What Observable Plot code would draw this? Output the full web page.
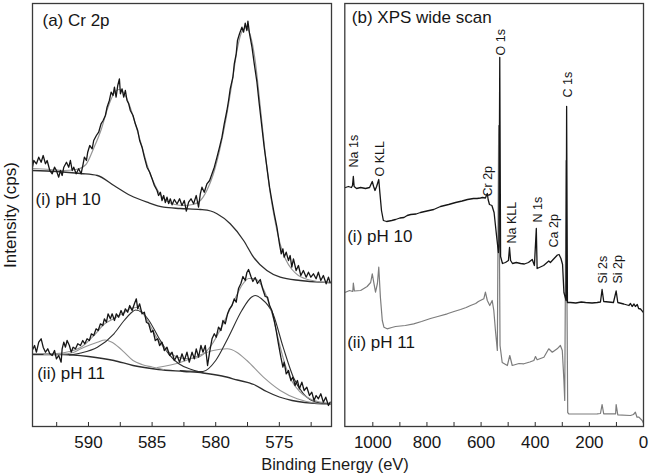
<!DOCTYPE html>
<html><head><meta charset="utf-8">
<script src="https://cdn.jsdelivr.net/npm/d3@7"></script>
<script src="https://cdn.jsdelivr.net/npm/@observablehq/plot@0.6"></script>
<style>
body{margin:0;background:#fff}
#wrap{position:relative;width:650px;height:475px;font-family:"Liberation Sans",Arial,sans-serif;color:#1a1a1a}
.abs{position:absolute}
#xlabel{left:0;width:670px;top:456px;text-align:center;font-size:16.5px;line-height:16px}
</style></head>
<body><div id="wrap"><div id="pa" class="abs" style="left:0;top:0"></div><div id="pb" class="abs" style="left:334px;top:0"></div><div id="xlabel" class="abs">Binding Energy (eV)</div></div>
<script>
// ---------- Panel (a) Cr 2p : [binding energy eV, intensity a.u.] ----------
const crRaw10 = [[594.40,259.3],[594.30,266],[594.09,262.7],[593.91,269.3],[593.72,264.3],[593.56,271],[593.38,262.7],[593.25,266],[593.04,256],[592.85,252.7],[592.67,259.3],[592.52,256],[592.34,249.3],[592.20,256],[592.07,251],[591.94,259.3],[591.73,264.3],[591.55,259.3],[591.42,266],[591.28,256],[591.16,259.3],[590.97,252.7],[590.77,257.7],[590.58,252.7],[590.42,262.7],[590.32,269.3],[590.16,266],[590.06,274.3],[589.90,281],[589.71,277.7],[589.59,286],[589.38,291],[589.20,294.3],[589.01,302.7],[588.85,306],[588.67,311],[588.54,319.3],[588.36,326],[588.22,334.3],[588.07,331],[587.96,339.3],[587.83,329.3],[587.70,341],[587.57,347.7],[587.49,332.7],[587.36,337.7],[587.23,329.3],[587.10,336],[586.97,326],[586.84,322.7],[586.71,316],[586.50,311],[586.32,302.7],[586.13,296],[585.98,286],[585.79,279.3],[585.61,269.3],[585.40,259.3],[585.19,254.3],[585.00,247.7],[584.82,241],[584.61,236],[584.49,231],[584.35,234.3],[584.22,226],[584.09,231],[583.96,224],[583.83,229.3],[583.70,223],[583.57,227.7],[583.43,221.7],[583.25,227],[583.04,222.5],[582.84,227.7],[582.65,221],[582.47,226],[582.31,215.3],[582.13,224.3],[581.94,227.7],[581.74,222.7],[581.53,231],[581.35,219.3],[581.21,232.7],[581.08,239.3],[580.90,234.3],[580.69,242.7],[580.48,246],[580.29,252.7],[580.11,259.3],[579.90,269.3],[579.70,279.3],[579.51,289.3],[579.33,302.7],[579.12,316],[578.99,326],[578.86,337.7],[578.65,349.3],[578.54,362.7],[578.39,372.7],[578.29,386],[578.13,392.7],[577.94,399.3],[577.81,394.3],[577.68,403.3],[577.55,396],[577.47,405.3],[577.34,392.7],[577.15,379.3],[576.97,362.7],[576.76,344.3],[576.58,322.7],[576.37,299.3],[576.19,279.3],[575.98,259.3],[575.77,239.3],[575.59,226],[575.40,212.7],[575.19,199.3],[574.99,182.7],[574.85,172.7],[574.72,177.7],[574.62,169.3],[574.46,174.3],[574.28,166],[574.15,171],[574.02,159.3],[573.89,167.7],[573.68,156],[573.50,161],[573.31,151],[573.11,156],[572.89,149.3],[572.71,154.3],[572.52,149.3],[572.32,152.7],[572.11,147.7],[571.93,154.3],[571.74,146],[571.54,151],[571.32,142.7],[571.14,149.3],[571.01,144]];
const crBg10 = [[594.4,256],[592.5,255],[590.6,253],[589.3,251],[588.0,241],[586.7,231],[585.4,224.3],[584.1,219.3],[582.8,218],[581.2,217],[580.4,215.5],[579.9,212.7],[578.86,202.7],[577.81,186],[577.03,169.3],[575.98,156],[574.93,149.3],[573.36,146],[571.79,144.3],[570.9,144]];
const crFit10 = [[594.4,258],[593.0,257],[592.0,256],[591.0,257],[590.2,262],[589.6,278],[589.0,297],[588.5,318],[588.0,333],[587.6,337],[587.2,333],[586.8,322],[586.3,302],[585.8,280],[585.3,258],[584.8,242],[584.3,231],[583.8,225],[583.2,222],[582.5,221],[581.8,222],[581.2,226],[580.7,236],[580.2,252],[579.7,276],[579.2,307],[578.7,345],[578.3,378],[577.9,396],[577.6,399],[577.3,392],[576.9,366],[576.5,320],[576.1,272],[575.7,232],[575.3,203],[574.9,181],[574.5,167],[574.0,157],[573.5,151],[573.0,148],[572.0,145],[570.9,143.5]];

const crRaw11 = [[594.42,76],[594.24,81],[594.09,74.3],[593.91,84.3],[593.72,87.7],[593.56,79.3],[593.38,74.3],[593.20,77.7],[593.04,72.7],[592.85,71],[592.67,76],[592.52,67.7],[592.34,71],[592.15,64.3],[592.07,77.7],[591.94,84.3],[591.81,79.3],[591.68,86],[591.50,81],[591.36,74.3],[591.21,79.3],[591.02,77.7],[590.84,82.7],[590.63,81],[590.45,86],[590.29,82.7],[590.11,87.7],[589.93,86],[589.77,92.7],[589.59,91],[589.40,97.7],[589.24,96],[589.06,102.7],[588.88,101],[588.75,107.7],[588.59,104.3],[588.46,112.7],[588.28,107.7],[588.14,112.7],[587.96,106],[587.81,112.7],[587.63,109.3],[587.44,116],[587.28,111],[587.10,117.7],[586.92,114.3],[586.76,121],[586.57,116],[586.39,122.7],[586.24,127.7],[586.13,117.7],[585.98,122.7],[585.79,112.7],[585.61,114.3],[585.45,104.3],[585.27,102.7],[585.08,94.3],[584.93,96],[584.75,86],[584.56,87.7],[584.41,81],[584.22,84.3],[584.04,76],[583.83,79.3],[583.62,71],[583.43,74.3],[583.25,66],[583.04,71],[582.84,64.3],[582.65,72.7],[582.47,66],[582.26,74.3],[582.08,64.3],[581.86,74.3],[581.68,67.7],[581.53,77.7],[581.35,69.3],[581.16,81],[581.00,74.3],[580.82,81],[580.64,61],[580.48,74.3],[580.29,87.7],[580.11,92.7],[579.96,89.3],[579.78,99.3],[579.59,96],[579.43,106],[579.25,102.7],[579.07,112.7],[578.91,117.7],[578.72,121],[578.54,127.7],[578.39,124.3],[578.21,138],[578.02,143],[577.86,150],[577.68,146],[577.55,154],[577.42,157],[577.23,150],[577.08,145],[576.90,149],[576.72,143],[576.50,147],[576.32,138],[576.11,130],[575.93,129.3],[575.77,121],[575.59,116],[575.40,106],[575.25,96],[575.07,82.7],[574.88,69.3],[574.72,59.3],[574.62,64.3],[574.46,52.7],[574.28,56],[574.09,46],[573.94,49.3],[573.76,41],[573.58,46],[573.42,37.7],[573.23,44.3],[573.05,36],[572.84,39.3],[572.63,31],[572.45,34.3],[572.27,26],[572.11,31],[571.93,27.7],[571.74,32.7],[571.54,24.3],[571.35,29.3],[571.14,21],[571.01,24.3]];
const crBg11 = [[594.4,72],[592.0,72],[590.0,70],[588.0,66],[586.5,61],[584.5,57],[582.5,55],[581.0,53.5],[579.5,50.5],[578.3,46.5],[577.0,42],[576.0,35],[575.0,29.5],[574.0,26],[573.0,24],[572.0,23],[570.9,22.7]];
const crFit11 = [[594.4,73],[592.5,73],[591.5,75],[590.5,80],[589.5,92],[588.8,102],[588.0,108],[587.3,113],[586.7,118],[586.2,119],[585.7,113],[585.2,102],[584.6,88],[584.0,78],[583.3,71],[582.5,68],[581.8,68],[581.0,72],[580.3,82],[579.6,98],[579.0,114],[578.4,130],[577.9,142],[577.4,148],[577.0,148],[576.5,143],[576.0,130],[575.5,110],[575.0,83],[574.5,60],[574.0,45],[573.4,35],[572.8,29],[572.0,25],[570.9,23]];
const crPeakA11 = [[593.5,72],[592.2,72.3],[591.2,74],[590.6,77.7],[589.9,81.5],[589.3,84.3],[588.7,86.5],[588.2,84.5],[587.6,79],[587.2,74.3],[586.5,66],[585.8,62],[585.0,59.5],[584.1,57]];
const crPeakB11 = [[591.5,71.5],[590.6,73.5],[589.3,79.3],[588.0,92.7],[587.2,106],[586.7,113],[586.3,116.5],[585.8,114],[585.3,107],[584.5,89.3],[583.7,72.7],[582.9,62.7],[581.9,57],[581.0,54]];
const crPeakC11 = [[584.6,59],[582.8,64],[581.5,70],[580.2,76],[579.1,77.7],[578.35,74.3],[577.55,66],[576.25,49.3],[574.93,36],[573.6,27.7],[572.3,23.7],[571.5,23]];
const crPeakD11 = [[582.8,56],[581.0,55],[580.0,66],[579.0,89.3],[577.95,116],[577.2,129.3],[576.9,131],[576.4,127.7],[575.5,112.7],[574.7,79.3],[573.9,49.3],[573.1,32.7],[572.05,24.3],[571.0,22.7]];

// ---------- Panel (b) XPS wide scan ----------
const wide10 = [[1101,239],[1090,240],[1079,239],[1075,241],[1072,250],[1069,240],[1060,238],[1045,239],[1027,238],[1012,239],[1002,245],[997,240],[992,236],[986,240],[978,247],[974,234],[968,216],[961,206],[949,205],[930,206],[916,207],[900,208.5],[885,209],[873,211],[860,212],[840,212.5],[824,214],[800,215.5],[775,217],[750,220],[720,222],[694,224],[670,225.5],[650,227],[628,228],[615,228],[602,228.5],[595,229],[584,228.5],[577,233],[574,227],[569,222],[560,221],[552,214],[543,191],[536,174],[534,180],[531,369],[528,170],[521,163],[510,164],[499,166],[495,179],[491,166],[484,163],[470,164],[454,163],[440,162.5],[425,164],[411,167],[403,161],[396,198],[393,158],[369,161],[350,165.5],[344,164],[332,167.5],[318,171.5],[312,172],[305,168],[299,162],[294,134],[286,126],[284,320],[281,124],[270,124],[250,123.5],[230,124.5],[214,124],[190,123.5],[171,124],[159,124.5],[153,137],[147,125],[111,124],[101,135.5],[95,124],[73,122.5],[54,121],[48,123],[42,120],[35,122.5],[30,120],[23,122],[18,118],[11,117.5],[0,114]];
const wide11 = [[1101,134.3],[1086,136],[1074,135],[1072,143.3],[1068,135.5],[1045,136],[1021,140],[1008,144],[1002,152.7],[996,143.3],[990,134.3],[983,143],[978,159.3],[972,129.3],[965,106],[959,99.3],[947,97.7],[930,99],[916,100],[880,101],[849,102.7],[820,105],[787,108],[760,110],[725,112.7],[700,115],[676,117],[655,119],[639,121],[620,123],[610,125],[590,127.7],[584,134.3],[577,126],[568,121],[559,126],[553,116],[547,96],[540,76],[535,301],[530,81],[522,64],[503,61],[494,71],[485,61],[460,63],[442,62.7],[420,64.5],[405,66],[399,70],[393,66.7],[368,69.3],[350,77.7],[337,74.3],[319,77.7],[307,81],[300,76],[294,46],[291,26],[286,266],[280,14],[276,12.7],[233,12.5],[171,12.7],[159,13],[153,22],[147,12.7],[103,12.7],[101,22],[95,11.7],[48,11],[37,12],[30,14.3],[24,9.3],[17,9.3],[5,6],[0,3.3]];

const peakNames = ["Na 1s","O KLL","Cr 2p","O 1s","Na KLL","N 1s","Ca 2p","C 1s","Si 2s","Si 2p"];
const peakEnergies = [1068, 972, 574, 526, 485, 388, 329, 279, 150, 94];
const peakLabelLevels = [259, 250, 230, 371, 183, 204, 179, 329, 143, 143];

const ticksA = [590, 585, 580, 575];
const minorA = [592.5, 590, 587.5, 585, 582.5, 580, 577.5, 575, 572.5];
const ticksB = [1000, 800, 600, 400, 200, 0];
const minorB = [1000, 900, 800, 700, 600, 500, 400, 300, 200, 100, 0];

const font = '"Liberation Sans", Arial, sans-serif';
const BLACK = "#161616", DARK = "#2e2e2e", GRAY = "#969696", WGRAY = "#7c7c7c";
const FS = 17;
const ln = (data, stroke, w, curve = "linear") =>
  Plot.line(data, {x: d => d[0], y: d => d[1], stroke, strokeWidth: w, curve, clip: true});

const H = 475, MT = 3, MB = 49;
const common = {height: H, marginTop: MT, marginBottom: MB,
  y: {domain: [0, 423], axis: null},
  style: {fontFamily: font, background: "transparent", overflow: "visible", color: BLACK}};

const plotA = Plot.plot({
  ...common, width: 334, marginLeft: 32, marginRight: 3,
  x: {domain: [594.4, 570.9], axis: null},
  marks: [
    ln(crBg10, DARK, 1.3, "monotone-x"),
    ln(crFit10, GRAY, 1.2, "monotone-x"),
    ln(crRaw10, BLACK, 1.3),
    ln(crBg11, DARK, 1.3, "monotone-x"),
    ln(crPeakA11, GRAY, 1.1, "monotone-x"),
    ln(crPeakC11, GRAY, 1.1, "monotone-x"),
    ln(crPeakB11, DARK, 1.1, "monotone-x"),
    ln(crPeakD11, DARK, 1.1, "monotone-x"),
    ln(crFit11, GRAY, 1.2, "monotone-x"),
    ln(crRaw11, BLACK, 1.3),
    Plot.tickX(minorA, {x: d => d, insetTop: 419, stroke: DARK, strokeWidth: 1}),
    Plot.axisX({ticks: ticksA, tickSize: 0, tickPadding: 9, fontSize: FS, tickFormat: d => String(d), label: null}),
    Plot.frame({stroke: "#3a3a3a", strokeWidth: 1.3}),
    Plot.text(["(a) Cr 2p"], {frameAnchor: "top-left", dx: 10, dy: 10, fontSize: FS, fill: BLACK}),
    Plot.text(["(i) pH 10"], {x: () => 594.16, y: () => 234, textAnchor: "start", lineAnchor: "top", fontSize: FS, fill: BLACK}),
    Plot.text(["(ii) pH 11"], {x: () => 594.03, y: () => 60, textAnchor: "start", lineAnchor: "top", fontSize: FS, fill: BLACK}),
    Plot.text(["Intensity (cps)"], {frameAnchor: "left", dx: -22, rotate: -90, fontSize: FS, textAnchor: "middle", lineAnchor: "middle", fill: BLACK})
  ]
});

const plotB = Plot.plot({
  ...common, width: 316, marginLeft: 10.3, marginRight: 7,
  x: {domain: [1103.5, 0], axis: null},
  marks: [
    ln(wide11, WGRAY, 1.2),
    ln(wide10, BLACK, 1.3),
    Plot.tickX(minorB, {x: d => d, insetTop: 419, stroke: DARK, strokeWidth: 1}),
    Plot.axisX({ticks: ticksB, tickSize: 0, tickPadding: 9, fontSize: FS, tickFormat: d => String(d), label: null}),
    Plot.frame({stroke: "#3a3a3a", strokeWidth: 1.3}),
    Plot.text(["(b) XPS wide scan"], {frameAnchor: "top-left", dx: 7, dy: 7, fontSize: FS, fill: BLACK}),
    Plot.text(peakNames, {x: (d, i) => peakEnergies[i], y: (d, i) => peakLabelLevels[i], text: d => d, rotate: -90, textAnchor: "start", lineAnchor: "middle", fontSize: 12.5, fill: BLACK}),
    Plot.text(["(i) pH 10"], {x: () => 1094.6, y: () => 197, textAnchor: "start", lineAnchor: "top", fontSize: FS, fill: BLACK}),
    Plot.text(["(ii) pH 11"], {x: () => 1094.6, y: () => 91, textAnchor: "start", lineAnchor: "top", fontSize: FS, fill: BLACK})
  ]
});

document.getElementById("pa").appendChild(plotA);
document.getElementById("pb").appendChild(plotB);
</script>
</body></html>
